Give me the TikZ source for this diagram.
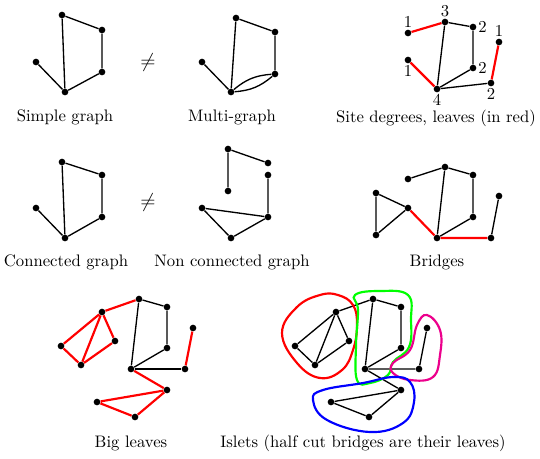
\documentclass[tikz,border=0pt]{standalone}
\usepackage{amsmath}
\usepackage{amssymb}
\usepackage{tikz}
\usetikzlibrary{
	arrows.meta,
	positioning,
	calc
}
\usepackage{xcolor}

\tikzset{
	dot/.style={circle,fill=black,inner sep=0pt,minimum size=4pt},
	edge/.style={line width=0.8pt},
	leaf/.style={line width=1.3pt,red},
	islet/.style={line width=1.3pt,smooth cycle,tension=0.7}
}

\begin{document}
\begin{tikzpicture}[x=0.6pt,y=-0.6pt]
		
		\useasboundingbox (0,0) rectangle (540,458);
		
		% simple graph
		\foreach \n/\x/\y in {1/62/15,2/102/30,3/102/72,4/65/92,5/36/62}
		\node[dot] (s\n) at (\x,\y) {};
		\draw[edge] (s1) -- (s2) -- (s3) -- (s4) -- (s1);
		\draw[edge] (s4) -- (s5);
		\node (t1) at (65,117) {Simple graph};
		
		\node (neq1) at (148,62) {\large$\neq$};
		
		% multi-graph
		\foreach \n/\x/\y in {1/236/18,2/275/32,3/275/74,4/231/92,5/202/62}
		\node[dot] (m\n) at (\x,\y) {};
		\draw[edge] (m1) -- (m2) -- (m3);
		\draw[edge] (m3) to[bend left=18] (m4);
		\draw[edge] (m3) to[bend right=18] (m4);
		\draw[edge] (m4) -- (m1);
		\draw[edge] (m4) -- (m5);
		\node (t2) at (232,117) {Multi-graph};
		
		% site degrees
		\begin{scope}[label distance=-2.5pt]
		\node[dot,label=above:1] (d1) at (408,33) {};
		\node[dot,label=above:3] (d2) at (445,22) {};
		\node[dot,label=right:2] (d3) at (473,27) {};
		\node[dot,label=right:2] (d4) at (473,68) {};
		\node[dot,label=below:4] (d5) at (437,89) {};
		\node[dot,label=below:2] (d6) at (491,83) {};
		\node[dot,label=above:1] (d7) at (499,42) {};
		\node[dot,label=below:1] (d8) at (408,60) {};
		\end{scope}
		\draw[edge] (d2) -- (d3) -- (d4) -- (d5) -- (d2);
		\draw[edge] (d5) -- (d6);
		\draw[leaf] (d1) -- (d2);
		\draw[leaf] (d8) -- (d5);
		\draw[leaf] (d6) -- (d7);
		\node (t3) at (436,118) {Site degrees, leaves (in red)};
		
		% connected graph
		\foreach \n/\x/\y in {1/62/162,2/102/175,3/102/217,4/65/238,5/36/208}
		\node[dot] (c\n) at (\x,\y) {};
		\draw[edge] (c1) -- (c2) -- (c3) -- (c4) -- (c1);
		\draw[edge] (c4) -- (c5);
		\node (t4) at (66,262) {Connected graph};
		
		\node (neq2) at (148,202) {\large$\neq$};
		
		% non connected graph
		\foreach \n/\x/\y in {1/228/149,2/268/163,3/228/191,4/268/175,5/268/217,6/202/208,7/231/238}
		\node[dot] (n\n) at (\x,\y) {};
		\draw[edge] (n3) -- (n1) -- (n2);
		\draw[edge] (n4) -- (n5) -- (n6) -- (n7) -- (n5);
		\node (t5) at (232,262) {Non connected graph};
		
		% bridges
		\foreach \n/\x/\y in {1/408/179,2/445/167,3/473/175,4/473/217,5/437/238,
			6/491/238,7/499/196,8/408/208,9/376/193,10/376/235}
		\node[dot] (b\n) at (\x,\y) {};
		\draw[edge] (b1) -- (b2) -- (b3) -- (b4) -- (b5) -- (b2);
		\draw[edge] (b6) -- (b7);
		\draw[edge] (b8) -- (b9) -- (b10) -- (b8);
		\draw[leaf] (b8) -- (b5) -- (b6);
		\node (t6) at (437,262) {Bridges};
		
		% big leaves
		\foreach \n/\x/\y in {1/139/299,2/167/307,3/167/348,4/131/369,5/185/369,
			6/193/328,7/102/312,8/61/346,9/81/365,10/115/341,11/167/390,12/97/402,13/135/417}
		\node[dot] (l\n) at (\x,\y) {};
		\draw[edge] (l1) -- (l2) -- (l3) -- (l4) -- (l1);
		\draw[edge] (l4) -- (l5);
		\draw[leaf] (l5) -- (l6);
		\draw[leaf] (l1) -- (l7) -- (l8) -- (l9) -- (l7) -- (l10) -- (l9);
		\draw[leaf] (l4) -- (l11) -- (l12) -- (l13) -- (l11);
		\node (t7) at (131,443) {Big leaves};
		
		% islets
		\foreach \n/\x/\y in {1/373/299,2/401/307,3/401/348,4/365/369,5/419/369,
			6/427/328,7/336/312,8/295/346,9/315/365,10/349/341,11/401/390,12/331/402,13/369/417}
		\node[dot] (i\n) at (\x,\y) {};
		\draw[edge] (i1) -- (i2) -- (i3) -- (i4) -- (i1);
		\draw[edge] (i4) -- (i5) -- (i6);
		\draw[edge] (i1) -- (i7) -- (i8) -- (i9) -- (i7) -- (i10) -- (i9);
		\draw[edge] (i4) -- (i11) -- (i12) -- (i13) -- (i11);
		
		\draw[islet,red] plot coordinates {(338,295) (353,305) (357,325) (353,350)
			(342,370) (320,378) (297,363) (282,333) (297,307) (320,295)};
		\draw[islet,green] plot coordinates {(355,295) (380,291) (408,295) (411,320)
			(409,347) (393,362) (388,375) (370,383) (357,380) (356,345) (358,310)};
		\draw[islet,magenta] plot coordinates {(427,315) (440,330) (440,355) (433,377)
			(410,380) (393,373) (393,363) (410,350) (417,325)};
		\draw[islet,blue] plot coordinates {(313,400) (323,390) (363,383) (393,377)
			(410,382) (414,402) (403,423) (370,432) (327,420)};
		\node (t8) at (363,443) {Islets (half cut bridges are their leaves)};
		
	\end{tikzpicture}
\end{document}
